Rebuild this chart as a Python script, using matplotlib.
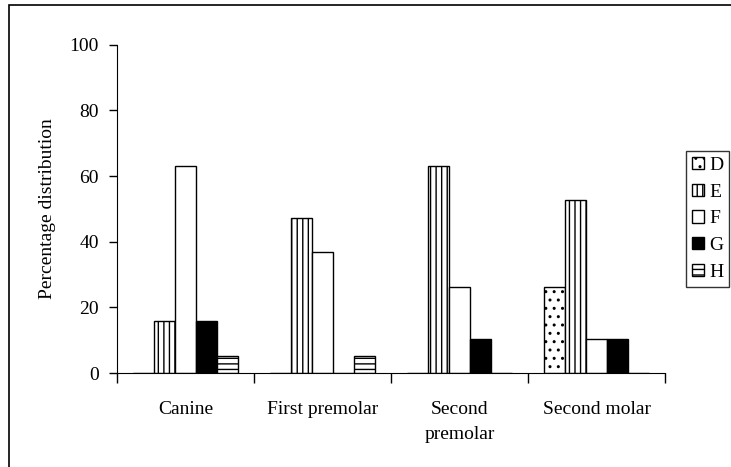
import numpy as np
import matplotlib
matplotlib.use('Agg')
import matplotlib.pyplot as plt
from matplotlib.patches import Rectangle

plt.rcParams['font.family'] = ['Liberation Serif', 'DejaVu Serif']
plt.rcParams['hatch.linewidth'] = 1.0

# data
teeth = ['Canine', 'First premolar', 'Second\npremolar', 'Second molar']
series = ['D', 'E', 'F', 'G', 'H']
D = [0, 0, 0, 26.3]
E = [15.8, 47.4, 63.2, 52.6]
F = [63.2, 36.8, 26.3, 10.5]
G = [15.8, 0, 10.5, 10.5]
H = [5.3, 5.3, 0, 0]

fills = {'D': 'white', 'E': 'white', 'F': 'white', 'G': 'black', 'H': 'white'}
hatches = {'D': '..', 'E': '|||', 'F': None, 'G': None, 'H': '---'}

fig = plt.figure(figsize=(7.31, 4.67), dpi=100)
ax = fig.add_axes([0.160, 0.201, 0.750, 0.703])

x = np.arange(len(teeth))
w = 0.153
for i, (name, vals) in enumerate(zip(series, [D, E, F, G, H])):
    ax.bar(x + (i - 2) * w, vals, w, color=fills[name], edgecolor='black',
           hatch=hatches[name], linewidth=1.0, label=name)

ax.set_xlim(-0.5, 3.5)
ax.set_ylim(0, 100)
ax.set_yticks([0, 20, 40, 60, 80, 100])
ax.set_xticks(np.arange(-0.5, 4.0, 1.0))
ax.set_xticklabels([])
ax.tick_params(axis='x', direction='out', length=7, width=1)
ax.tick_params(axis='y', direction='out', length=6, width=1, labelsize=14, pad=7)
for i, t in enumerate(teeth):
    ax.text(x[i], -8.5, t, ha='center', va='top', fontsize=14, linespacing=1.6)
ax.spines['top'].set_visible(False)
ax.spines['right'].set_visible(False)
ax.set_ylabel('Percentage distribution', fontsize=14, labelpad=10)

leg = fig.legend(loc='upper left', bbox_to_anchor=(686 / 731, 1 - 151 / 467),
                 frameon=True, fancybox=False, edgecolor='black', fontsize=14,
                 handlelength=0.6, handleheight=0.6, handletextpad=0.3,
                 borderpad=0.3, labelspacing=0.5, borderaxespad=0)
leg.get_frame().set_linewidth(1.0)

# outer frame
fig.patches.append(Rectangle((9 / 731, -0.1), 1.2, 1.1 - 5 / 467,
                             transform=fig.transFigure, fill=False,
                             edgecolor='black', linewidth=1.2))

fig.savefig('out.png', dpi=100)
